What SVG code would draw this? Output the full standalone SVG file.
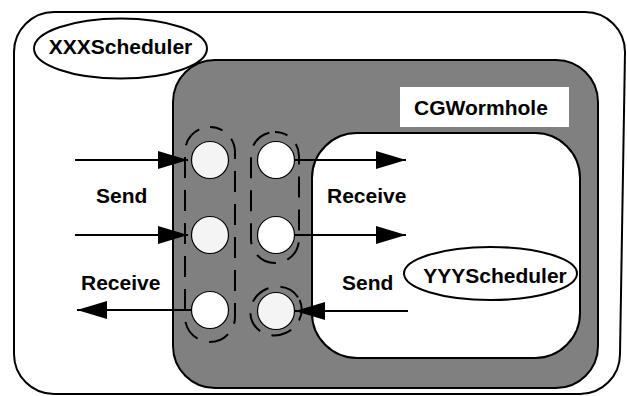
<svg xmlns="http://www.w3.org/2000/svg" width="627" height="396" viewBox="0 0 627 396">
  <defs>
    <marker id="head" viewBox="0 0 30 18" refX="30" refY="9" markerWidth="30" markerHeight="18" markerUnits="userSpaceOnUse" orient="auto">
      <path d="M0,0 L30,9 L0,18 Z" fill="#000"/>
    </marker>
    <style>
      .box { stroke: #000; stroke-width: 2; }
      .lbl { font-family: "Liberation Sans", Arial, sans-serif; font-weight: bold; font-size: 21px; fill: #000; }
      .port { stroke: #000; stroke-width: 1.2; }
      .dash { fill: none; stroke: #000; stroke-width: 2; stroke-dasharray: 21 12; }
      .wire { stroke: #000; stroke-width: 2; fill: none; }
    </style>
  </defs>

  <!-- outer scheduler domain -->
  <g id="xxx-domain">
    <path class="box" fill="#fff" d="M54,12 H585 A40,40 0 0 1 625,52 L620,354 A40,40 0 0 1 580,394 H54 A40,40 0 0 1 14,354 V52 A40,40 0 0 1 54,12 Z"/>
  </g>
  <g id="xxx-scheduler">
    <ellipse class="box" fill="#fff" cx="120.5" cy="48.5" rx="86.5" ry="30"/>
    <text class="lbl" x="120.5" y="54" text-anchor="middle">XXXScheduler</text>
  </g>

  <!-- wormhole actor -->
  <g id="cg-wormhole">
    <rect class="box" fill="#808080" x="173" y="60" width="425" height="328" rx="42" ry="42"/>
    <rect x="400" y="87" width="169" height="40" fill="#fff"/>
    <text class="lbl" x="481" y="115" text-anchor="middle">CGWormhole</text>
  </g>

  <!-- inner scheduler domain -->
  <g id="yyy-domain">
    <rect class="box" fill="#fff" x="312" y="133" width="268" height="225" rx="45" ry="45"/>
  </g>
  <g id="yyy-scheduler">
    <ellipse class="box" fill="#fff" cx="490.5" cy="273.5" rx="86.5" ry="26.5"/>
    <text class="lbl" x="495" y="283" text-anchor="middle">YYYScheduler</text>
  </g>

  <!-- connectors -->
  <g id="connectors">
    <line class="wire" x1="75" y1="160" x2="188" y2="160" marker-end="url(#head)"/>
    <line class="wire" x1="75" y1="235" x2="188" y2="235" marker-end="url(#head)"/>
    <line class="wire" x1="192" y1="310" x2="77" y2="310" marker-end="url(#head)"/>
    <line class="wire" x1="294" y1="160" x2="406" y2="160" marker-end="url(#head)"/>
    <line class="wire" x1="294" y1="235" x2="406" y2="235" marker-end="url(#head)"/>
    <line class="wire" x1="408" y1="311" x2="295" y2="311" marker-end="url(#head)"/>
  </g>

  <!-- port groupings -->
  <g id="port-groups">
    <rect class="dash" x="185" y="127" width="50" height="215" rx="25" ry="25" stroke-dashoffset="8"/>
    <rect class="dash" x="251" y="132" width="48" height="131" rx="24" ry="24" stroke-dashoffset="8"/>
    <ellipse class="dash" cx="276" cy="311" rx="26" ry="24" transform="rotate(-25 276 311)" stroke-dasharray="20 19"/>
  </g>

  <!-- ports -->
  <g id="port-in-1"><circle class="port" cx="210" cy="160" r="18.5" fill="#f4f4f4"/></g>
  <g id="port-in-2"><circle class="port" cx="210" cy="235" r="18.5" fill="#f4f4f4"/></g>
  <g id="port-out-1"><circle class="port" cx="210" cy="310" r="18.5" fill="#fff"/></g>
  <g id="port-inside-out-1"><circle class="port" cx="276" cy="160" r="18.5" fill="#fff"/></g>
  <g id="port-inside-out-2"><circle class="port" cx="276" cy="235" r="18.5" fill="#fff"/></g>
  <g id="port-inside-in-1"><circle class="port" cx="276" cy="311" r="18.5" fill="#f4f4f4"/></g>

  <!-- labels -->
  <g id="labels">
    <text class="lbl" x="96" y="203">Send</text>
    <text class="lbl" x="81" y="290">Receive</text>
    <text class="lbl" x="327" y="203">Receive</text>
    <text class="lbl" x="342" y="290">Send</text>
  </g>
</svg>
